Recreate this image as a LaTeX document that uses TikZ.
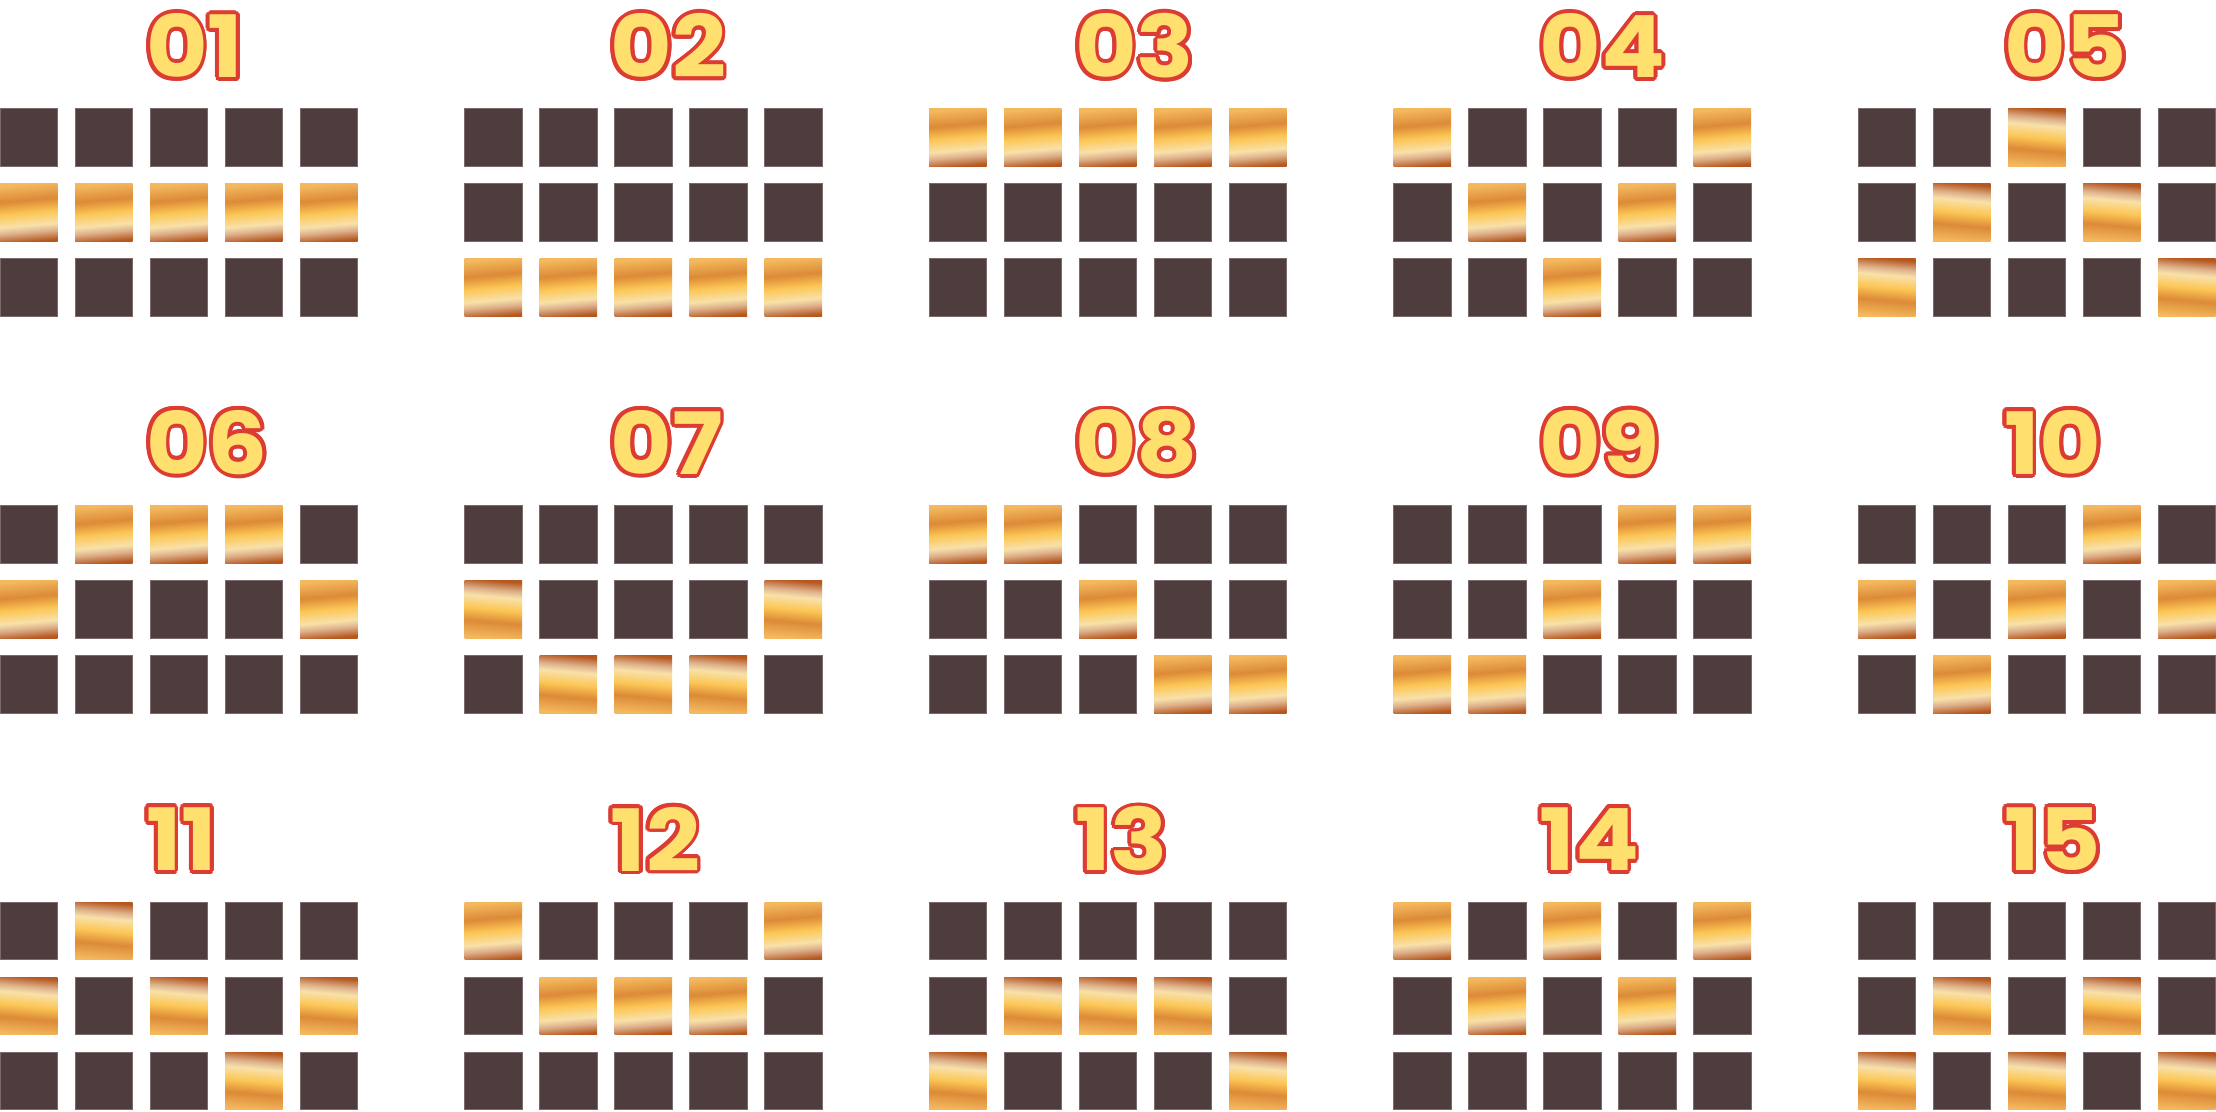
\documentclass[tikz,border=0pt]{standalone}
\usepackage{fontspec}
\newfontfamily\lblfont{Poppins}[FakeStretch=1.1]
\definecolor{darksq}{HTML}{4F3C3D}
\definecolor{darkedge}{HTML}{7A6A6B}
\definecolor{gLight}{HTML}{F4B95F}
\definecolor{gOrange}{HTML}{DC8A37}
\definecolor{gYellow}{HTML}{FCC655}
\definecolor{gCream}{HTML}{F8E1AA}
\definecolor{gTan}{HTML}{DDB08A}
\definecolor{gRust}{HTML}{B5571F}
\definecolor{lblred}{HTML}{DD3C33}
\definecolor{lblyel}{HTML}{FFDF6E}
\pgfdeclareverticalshading{goldA}{100bp}{color(0bp)=(gRust); color(25bp)=(gRust); color(33bp)=(gTan); color(39bp)=(gCream); color(50bp)=(gYellow); color(61bp)=(gOrange); color(75bp)=(gLight); color(100bp)=(gLight)}
\pgfdeclareverticalshading{goldB}{100bp}{color(0bp)=(gLight); color(25bp)=(gLight); color(39bp)=(gOrange); color(50bp)=(gYellow); color(61bp)=(gCream); color(67bp)=(gTan); color(75bp)=(gRust); color(100bp)=(gRust)}
\tikzset{
  sqbase/.style={minimum width=57.7pt, minimum height=57.7pt, inner sep=0pt, outer sep=0pt, anchor=north west},
  sqdark/.style={sqbase, fill=darksq, draw=darkedge, line width=0.8pt},
  sqgoldA/.style={sqbase, shading=goldA, shading angle=5},
  sqgoldB/.style={sqbase, shading=goldB, shading angle=-5},
  lblstyle/.style={anchor=west, inner sep=0pt, outer sep=0pt, font=\lblfont\bfseries\fontsize{86}{90}\selectfont}
}
\newcommand\outlbl[1]{%
  \foreach \ang in {0,22.5,...,337.5}{%
    \rlap{\hspace*{\fpeval{3.8*cosd(\ang)}pt}\raisebox{\fpeval{3.8*sind(\ang)}pt}{\color{lblred}#1}}}%
  {\color{lblyel}#1}}
\newcommand\cellsq[4]{%
  \ifnum#4=1\relax
    \ifnum\curflip=1\relax
      \node[sqgoldB] (sq-#1-#2-#3) at ({\pnx+75*#3},{\pny+75*#2}) {};
    \else
      \node[sqgoldA] (sq-#1-#2-#3) at ({\pnx+75*#3},{\pny+75*#2}) {};
    \fi
  \else
    \node[sqdark] (sq-#1-#2-#3) at ({\pnx+75*#3},{\pny+75*#2}) {};
  \fi}
\newcommand\rowcells[7]{\cellsq{#1}{#2}{0}{#3}\cellsq{#1}{#2}{1}{#4}\cellsq{#1}{#2}{2}{#5}\cellsq{#1}{#2}{3}{#6}\cellsq{#1}{#2}{4}{#7}}
\newcommand\panel[6]{%
  \pgfmathsetmacro\pnx{464.5*mod(#1-1,5)}%
  \pgfmathsetmacro\pny{108.7+396.7*floor((#1-1)/5)}%
  \def\curflip{#3}%
  \node[lblstyle] (lbl-#1) at (\pnx+146,\pny-63) {\outlbl{#2}};
  \rowcells{#1}{0}#4
  \rowcells{#1}{1}#5
  \rowcells{#1}{2}#6
}
\begin{document}
\begin{tikzpicture}[x=1pt,y=-1pt]
\useasboundingbox (0,0) rectangle (2216,1111);
\fill[white] (0,0) rectangle (2216,1111);
\panel{1}{01}{0}{00000}{11111}{00000}
\panel{2}{02}{0}{00000}{00000}{11111}
\panel{3}{03}{0}{11111}{00000}{00000}
\panel{4}{04}{0}{10001}{01010}{00100}
\panel{5}{05}{1}{00100}{01010}{10001}
\panel{6}{06}{0}{01110}{10001}{00000}
\panel{7}{07}{1}{00000}{10001}{01110}
\panel{8}{08}{0}{11000}{00100}{00011}
\panel{9}{09}{0}{00011}{00100}{11000}
\panel{10}{10}{0}{00010}{10101}{01000}
\panel{11}{11}{1}{01000}{10101}{00010}
\panel{12}{12}{0}{10001}{01110}{00000}
\panel{13}{13}{1}{00000}{01110}{10001}
\panel{14}{14}{0}{10101}{01010}{00000}
\panel{15}{15}{1}{00000}{01010}{10101}
\end{tikzpicture}
\end{document}
